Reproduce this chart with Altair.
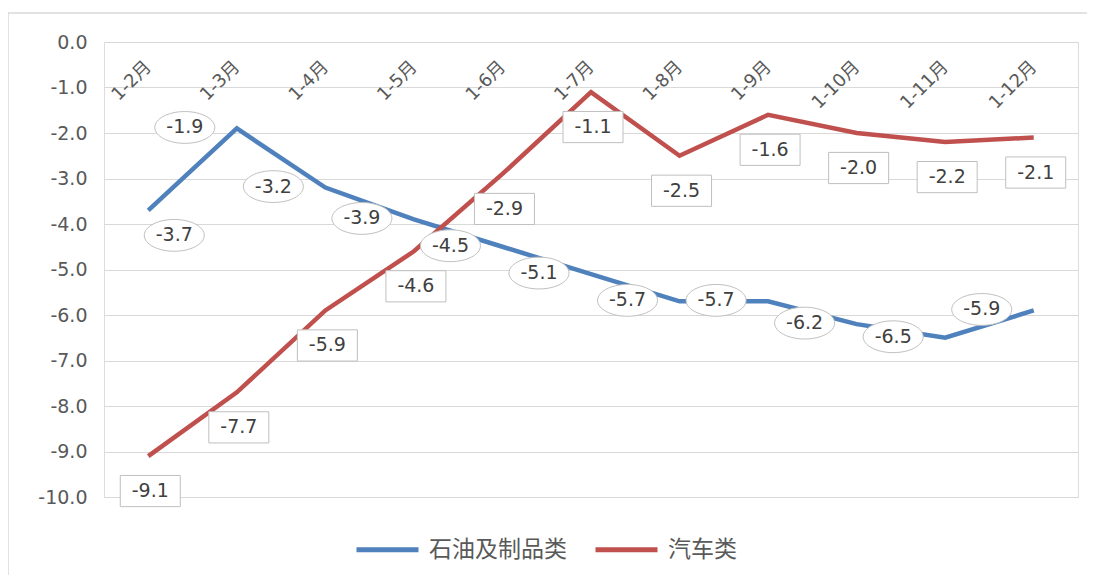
import altair as alt
import pandas as pd

months = ["1-2月", "1-3月", "1-4月", "1-5月", "1-6月", "1-7月",
          "1-8月", "1-9月", "1-10月", "1-11月", "1-12月"]
oil = [-3.7, -1.9, -3.2, -3.9, -4.5, -5.1, -5.7, -5.7, -6.2, -6.5, -5.9]
auto = [-9.1, -7.7, -5.9, -4.6, -2.9, -1.1, -2.5, -1.6, -2.0, -2.2, -2.1]
series_names = ["石油及制品类", "汽车类"]
colors = ["#4F81BD", "#C0504D"]
y_ticks = [-10.0, -9.0, -8.0, -7.0, -6.0, -5.0, -4.0, -3.0, -2.0, -1.0, 0.0]

rows = []
for name, vals in zip(series_names, [oil, auto]):
    for m, v in zip(months, vals):
        rows.append({"month": m, "series": name, "value": v,
                     "label": f"{v:.1f}"})
df = pd.DataFrame(rows)

W, H = 974, 455
FONT = "DejaVu Sans, Noto Sans CJK SC"

x_enc = alt.X(
    "month:N", sort=months,
    scale=alt.Scale(type="point", padding=0.5),
    axis=alt.Axis(orient="bottom", offset=-H, title=None, labelAngle=-45,
                  labelAlign="right", labelBaseline="middle", labelPadding=22,
                  ticks=False, domain=False, grid=False, labelFontSize=18,
                  labelColor="#595959", labelFont=FONT),
)
y_enc = alt.Y(
    "value:Q",
    scale=alt.Scale(domain=[-10, 0], nice=False, zero=False),
    axis=alt.Axis(values=y_ticks, title=None, grid=True,
                  labelExpr="replace(format(datum.value, '.1f'), '\u2212', '-')",
                  gridColor="#d9d9d9", gridWidth=1, domain=False, ticks=False,
                  labelPadding=17, labelFontSize=19, labelColor="#595959",
                  labelFont=FONT),
)

base = alt.Chart(df)

lines = base.mark_line(strokeWidth=4.5).encode(
    x=x_enc, y=y_enc,
    color=alt.Color("series:N",
                    scale=alt.Scale(domain=series_names, range=colors),
                    legend=alt.Legend(orient="none", legendX=250, legendY=474,
                                      direction="horizontal", title=None,
                                      symbolType="stroke", symbolSize=3844,
                                      symbolStrokeWidth=5, labelFontSize=23,
                                      labelFont=FONT, labelColor="#595959",
                                      labelOffset=8, columnPadding=18,
                                      labelLimit=0)),
)

ELLIPSE = ("M -1 0 C -1 -0.2927 -0.5523 -0.53 0 -0.53 "
           "C 0.5523 -0.53 1 -0.2927 1 0 "
           "C 1 0.2927 0.5523 0.53 0 0.53 "
           "C -0.5523 0.53 -1 0.2927 -1 0 Z")
RECT = "M -1 -0.52 L 1 -0.52 L 1 0.52 L -1 0.52 Z"

is_oil = alt.datum.series == series_names[0]
is_first = alt.datum.month == months[0]

oil_first = base.transform_filter(is_oil & is_first)
oil_rest = base.transform_filter(is_oil & ~is_first)
auto_all = base.transform_filter(alt.datum.series == series_names[1])

box_style = dict(size=3600, filled=True, fill="white", stroke="#bfbfbf",
                 strokeWidth=1, opacity=1, fillOpacity=1)
text_style = dict(fontSize=19, color="#404040", font=FONT)
txt = alt.Text("label:N")

oil_first_box = oil_first.mark_point(shape=ELLIPSE, xOffset=26, yOffset=25,
                                     **box_style).encode(x=x_enc, y=y_enc)
oil_rest_box = oil_rest.mark_point(shape=ELLIPSE, xOffset=-52, yOffset=-1,
                                   **box_style).encode(x=x_enc, y=y_enc)
auto_box = auto_all.mark_point(shape=RECT, xOffset=2, yOffset=35,
                               **box_style).encode(x=x_enc, y=y_enc)

oil_first_txt = oil_first.mark_text(dx=26, dy=25, **text_style).encode(
    x=x_enc, y=y_enc, text=txt)
oil_rest_txt = oil_rest.mark_text(dx=-52, dy=-1, **text_style).encode(
    x=x_enc, y=y_enc, text=txt)
auto_txt = auto_all.mark_text(dx=2, dy=35, **text_style).encode(
    x=x_enc, y=y_enc, text=txt)

frame = alt.Chart(pd.DataFrame({"k": [0]})).mark_rect(
    fillOpacity=0, stroke="#d9d9d9", strokeWidth=1.5
).encode(x=alt.value(-96), x2=alt.value(W + 200),
         y=alt.value(-29), y2=alt.value(H + 200))

chart = alt.layer(
    frame, lines, oil_first_box, oil_rest_box, auto_box,
    oil_first_txt, oil_rest_txt, auto_txt
).properties(
    width=W, height=H,
    autosize=alt.AutoSizeParams(type="none"),
    padding={"left": 96, "top": 34, "right": 9, "bottom": 78},
).configure_view(stroke=None).configure(background="white")

chart.save("out.html", embed_options={"renderer": "svg", "actions": False})
